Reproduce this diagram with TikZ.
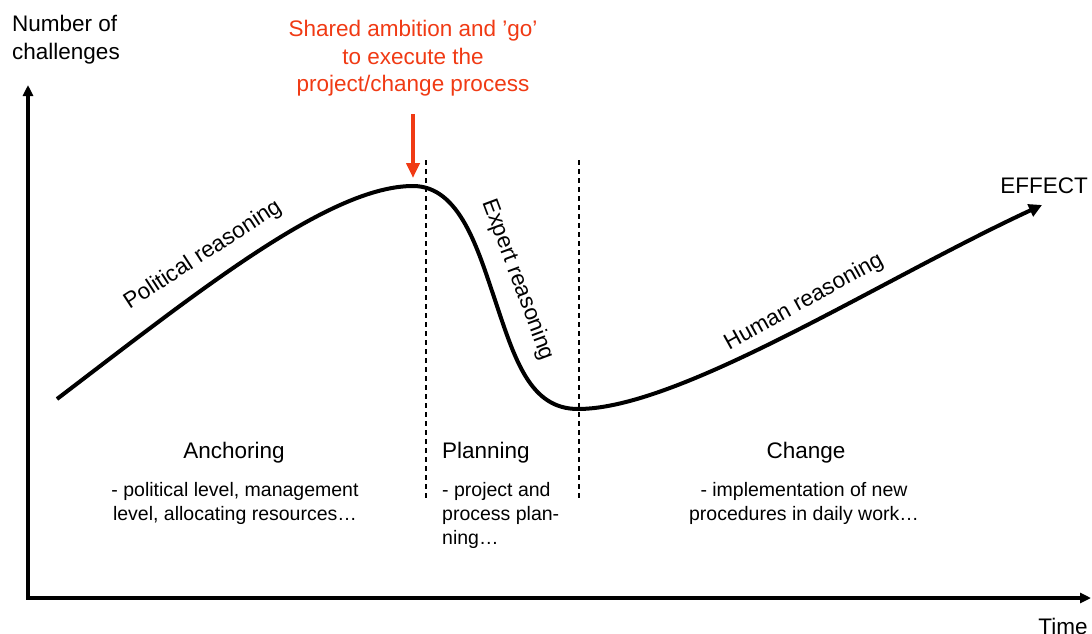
\documentclass[tikz,border=0pt]{standalone}
\usepackage{fontspec}
\setmainfont{Liberation Sans}
\usetikzlibrary{arrows.meta}
\definecolor{accent}{RGB}{240,58,20}
\newcommand{\mylines}[2]{\begin{tabular}[t]{@{}#1@{}}#2\end{tabular}}
\tikzset{
  big/.style={font=\fontsize{22.5}{28}\selectfont, inner sep=0pt, anchor=base},
  small/.style={font=\fontsize{19.5}{24}\selectfont, inner sep=0pt, anchor=base},
  axis/.style={line width=3.4pt, -{Triangle[length=11pt,width=10pt]}},
  curve/.style={line width=4pt, -{Triangle[length=13pt,width=13pt]}},
  divider/.style={line width=1.1pt, dash pattern=on 5pt off 4pt},
  redarrow/.style={accent, line width=4.2pt, -{Triangle[length=15pt,width=13pt]}},
}
\begin{document}
\begin{tikzpicture}[x=1pt,y=-1pt]
\useasboundingbox (0,0) rectangle (1092,634);
% axes
\coordinate (o) at (28,598);
\coordinate (ytip) at (28,85);
\coordinate (xtip) at (1091,598);
\draw[axis] (28,599.7) -- (ytip);
\draw[axis] (26.3,598) -- (xtip);
\node[big, anchor=base west] (ylab) at (12,32) {\fontsize{22.5}{27.5}\selectfont\mylines{l}{Number of\\challenges}};
\node[big] (xlab) at (1063,634) {Time};
% dividers
\coordinate (d1t) at (426,160); \coordinate (d1b) at (426,501);
\coordinate (d2t) at (579,160); \coordinate (d2b) at (579,501);
\draw[divider] (d1t) -- (d1b);
\draw[divider] (d2t) -- (d2b);
% curve
\coordinate (c0) at (57,399);
\coordinate (c1) at (413,186);
\coordinate (c2) at (495,300);
\coordinate (c3) at (578,409);
\coordinate (c4) at (1042,205);
\draw[curve] (c0) .. controls (200,290) and (330,186) .. (c1)
  .. controls (460,186) and (478,250) .. (c2)
  .. controls (515,360) and (530,409) .. (c3)
  .. controls (680,409) and (880,280) .. (c4);
% red annotation
\node[big, text=accent] (goal) at (413,37) {\fontsize{22.5}{27.5}\selectfont\mylines{c}{Shared ambition and ’go’\\to execute the\\project/change process}};
\coordinate (rtop) at (413,114);
\coordinate (rtip) at (413,178);
\draw[redarrow] (rtop) -- (rtip);
% curve labels
\node[big, anchor=center, rotate=33] (pol) at (203,255) {Political reasoning};
\node[big, anchor=center, rotate=-69.5] (exp) at (518,280) {Expert reasoning};
\node[big, anchor=center, rotate=29] (hum) at (804,302) {Human reasoning};
\node[big] (eff) at (1044,193) {EFFECT};
% phases
\node[big] (anch) at (234,458) {Anchoring};
\node[small] (anchd) at (235,496) {\mylines{c}{- political level, management\\level, allocating resources…}};
\node[big, anchor=base west] (plan) at (442,458) {Planning};
\node[small, anchor=base west] (pland) at (442,496) {\mylines{l}{- project and\\process plan-\\ning…}};
\node[big] (chg) at (806,458) {Change};
\node[small] (chgd) at (804,496) {\mylines{c}{- implementation of new\\procedures in daily work…}};
\end{tikzpicture}
\end{document}
